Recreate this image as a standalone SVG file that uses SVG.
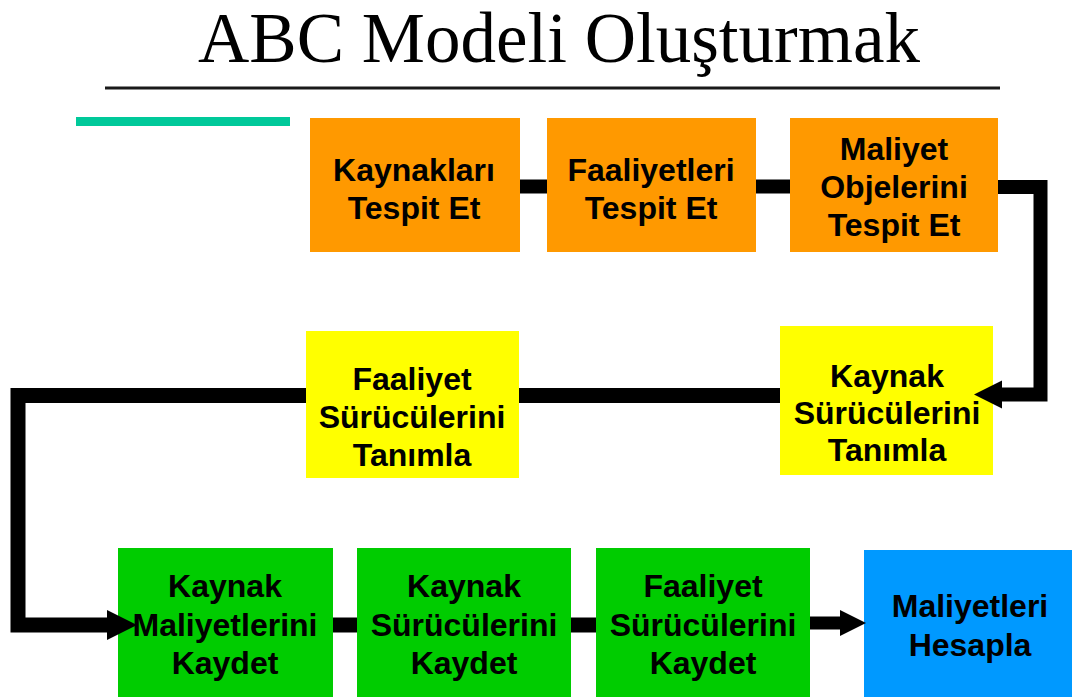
<svg xmlns="http://www.w3.org/2000/svg" width="1072" height="697" viewBox="0 0 1072 697">
  <style>
    .title { font-family: "Liberation Serif", "Times New Roman", serif; font-size: 71px; fill: #000; }
    .lbl { font-family: "Liberation Sans", Arial, sans-serif; font-weight: bold; font-size: 32px; fill: #000; text-anchor: middle; }
    .orange { fill: #FF9900; }
    .yellow { fill: #FFFF00; }
    .green { fill: #00CC00; }
    .blue { fill: #0099FF; }
    .conn { fill: none; stroke: #000; stroke-width: 14; stroke-linejoin: miter; }
  </style>
  <defs>
    <marker id="arrow" viewBox="0 0 10 10" refX="0" refY="5" markerWidth="2" markerHeight="2.2" orient="auto" markerUnits="strokeWidth">
      <path d="M0,0 L10,5 L0,10 z" fill="#000"/>
    </marker>
  </defs>
  <rect width="1072" height="697" fill="#fff"/>

  <g id="title">
    <text class="title" x="559" y="62" text-anchor="middle">ABC Modeli Oluşturmak</text>
    <rect x="105" y="86.5" width="895" height="3" fill="#1a1a1a"/>
    <rect x="76" y="117" width="214" height="9" fill="#00C99A"/>
  </g>

  <g id="n1">
    <rect class="orange" x="310" y="118" width="210" height="134"/>
    <text class="lbl" x="414" y="181">Kaynakları</text>
    <text class="lbl" x="414" y="219">Tespit Et</text>
  </g>
  <g id="n2">
    <rect class="orange" x="547" y="118" width="209" height="134"/>
    <text class="lbl" x="651" y="181">Faaliyetleri</text>
    <text class="lbl" x="651" y="219">Tespit Et</text>
  </g>
  <g id="n3">
    <rect class="orange" x="790" y="118" width="208" height="134"/>
    <text class="lbl" x="894" y="160">Maliyet</text>
    <text class="lbl" x="894" y="198">Objelerini</text>
    <text class="lbl" x="894" y="236">Tespit Et</text>
  </g>
  <g id="n4">
    <rect class="yellow" x="780" y="326" width="213" height="149"/>
    <text class="lbl" x="887" y="387">Kaynak</text>
    <text class="lbl" x="887" y="424">Sürücülerini</text>
    <text class="lbl" x="887" y="461">Tanımla</text>
  </g>
  <g id="n5">
    <rect class="yellow" x="306" y="331" width="213" height="147"/>
    <text class="lbl" x="412" y="390">Faaliyet</text>
    <text class="lbl" x="412" y="428">Sürücülerini</text>
    <text class="lbl" x="412" y="466">Tanımla</text>
  </g>
  <g id="n6">
    <rect class="green" x="118" y="548" width="215" height="149"/>
    <text class="lbl" x="225" y="597">Kaynak</text>
    <text class="lbl" x="225" y="636">Maliyetlerini</text>
    <text class="lbl" x="225" y="674">Kaydet</text>
  </g>
  <g id="n7">
    <rect class="green" x="357" y="548" width="214" height="149"/>
    <text class="lbl" x="464" y="597">Kaynak</text>
    <text class="lbl" x="464" y="636">Sürücülerini</text>
    <text class="lbl" x="464" y="674">Kaydet</text>
  </g>
  <g id="n8">
    <rect class="green" x="596" y="548" width="214" height="149"/>
    <text class="lbl" x="703" y="597">Faaliyet</text>
    <text class="lbl" x="703" y="636">Sürücülerini</text>
    <text class="lbl" x="703" y="674">Kaydet</text>
  </g>
  <g id="n9">
    <rect class="blue" x="864" y="550" width="208" height="147"/>
    <text class="lbl" x="970" y="617">Maliyetleri</text>
    <text class="lbl" x="970" y="656">Hesapla</text>
  </g>

  <g id="connectors">
    <path class="conn" d="M520,186.5 H547"/>
    <path class="conn" d="M756,186.5 H790"/>
    <path class="conn" d="M998,187 H1040.5 V394.5 H1002" marker-end="url(#arrow)"/>
    <path class="conn" style="stroke-width:15" d="M780,395.5 H519"/>
    <path class="conn" style="stroke-width:15" d="M306,395.5 H18 V625 H107" marker-end="url(#arrow)"/>
    <path class="conn" style="stroke-width:15" d="M333,625 H357"/>
    <path class="conn" style="stroke-width:15" d="M571,625 H596"/>
    <path class="conn" style="stroke-width:13" d="M810,623 H840" marker-end="url(#arrow)"/>
  </g>
</svg>
